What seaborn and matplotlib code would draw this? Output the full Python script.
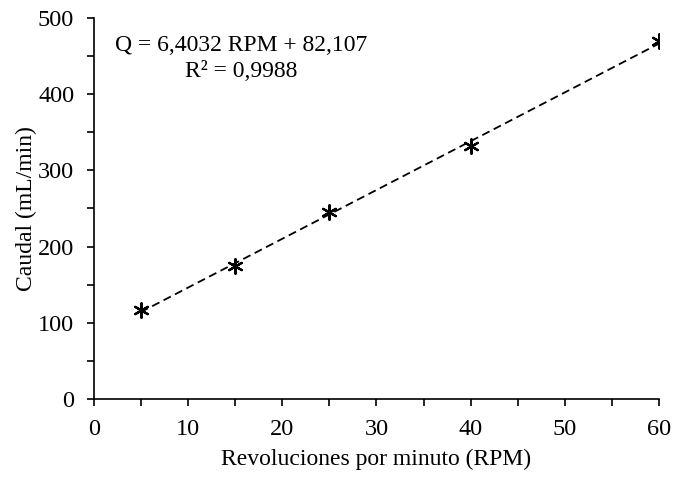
import numpy as np
import pandas as pd
import seaborn as sns
import matplotlib.pyplot as plt
from matplotlib.ticker import MultipleLocator

rpm = [5, 15, 25, 40, 60]
caudal = [117, 174, 245, 332, 470]
eq_text = "Q = 6,4032 RPM + 82,107"
r2_text = "R² = 0,9988"

sns.set_theme(style="ticks")
plt.rcParams['font.family'] = ['Liberation Serif', 'DejaVu Serif']

df = pd.DataFrame({"rpm": rpm, "caudal": caudal})

fig = plt.figure(figsize=(6.74, 4.82), dpi=100)
ax = fig.add_axes([0.139, 0.172, 0.839, 0.791])

slope, intercept = 6.4032, 82.107
xs = np.array([min(rpm), max(rpm)])
fit = pd.DataFrame({"rpm": xs, "caudal": slope * xs + intercept})
sns.lineplot(data=fit, x="rpm", y="caudal", ax=ax, color="black",
             linestyle=(0, (4.5, 2.6)), linewidth=1.3)
sns.scatterplot(data=df, x="rpm", y="caudal", ax=ax, marker=(6, 2, 0), s=110,
                color="black", edgecolor="black", linewidth=1.6, zorder=3)

ax.set_xlim(0, 60)
ax.set_ylim(0, 500)
ax.xaxis.set_major_locator(MultipleLocator(10))
ax.xaxis.set_minor_locator(MultipleLocator(5))
ax.yaxis.set_major_locator(MultipleLocator(100))
ax.yaxis.set_minor_locator(MultipleLocator(50))
ax.tick_params(which="both", direction="out", length=5, width=1.2, color="black",
               labelsize=17.5, labelcolor="black")
ax.tick_params(axis="x", which="major", pad=9)
ax.tick_params(axis="y", which="major", pad=9)
for s in ["top", "right"]:
    ax.spines[s].set_visible(False)
for s in ["left", "bottom"]:
    ax.spines[s].set_linewidth(1.2)
    ax.spines[s].set_color("black")

ax.set_xlabel("Revoluciones por minuto (RPM)", fontsize=17, color="black", labelpad=7)
ax.set_ylabel("Caudal (mL/min)", fontsize=17, color="black", labelpad=1)

ax.text(0.26, 0.893, eq_text + "\n" + r2_text, transform=ax.transAxes,
        ha="center", va="center", fontsize=17, linespacing=1.3, color="black")

fig.savefig("out.png", dpi=100)
